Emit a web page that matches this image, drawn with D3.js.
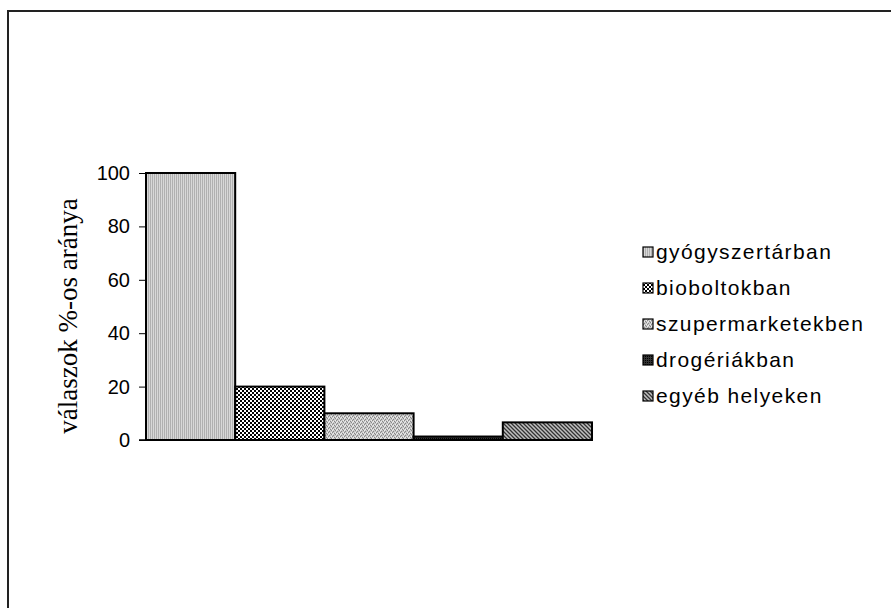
<!DOCTYPE html>
<html><head><meta charset="utf-8">
<script src="https://cdn.jsdelivr.net/npm/d3@7"></script>
<style>body{margin:0;background:#fff}svg{display:block}</style>
</head><body>
<script>
const categories = ["gyógyszertárban","bioboltokban","szupermarketekben","drogériákban","egyéb helyeken"];
const values = [100, 20, 10, 1.3, 6.6];
const yTicks = [0, 20, 40, 60, 80, 100];
const yTitle = "válaszok %-os aránya";

const W = 891, H = 608;
const svg = d3.select("body").append("svg").attr("width", W).attr("height", H);
const defs = svg.append("defs");

function pat(id, size, draw){ const p = defs.append("pattern").attr("id", id).attr("patternUnits","userSpaceOnUse").attr("width",size).attr("height",size); draw(p); }
pat("p0", 2, p => { p.append("rect").attr("width",2).attr("height",2).attr("fill","#d8d8d8"); p.append("rect").attr("width",1).attr("height",2).attr("fill","#b0b0b0"); });
pat("p1", 4, p => { p.append("rect").attr("width",4).attr("height",4).attr("fill","#fff"); p.append("rect").attr("width",2).attr("height",2).attr("fill","#000"); p.append("rect").attr("x",2).attr("y",2).attr("width",2).attr("height",2).attr("fill","#000"); });
pat("p2", 4, p => { p.append("rect").attr("width",4).attr("height",4).attr("fill","#c8c8c8");
  [[0,0],[2,1],[1,3],[3,2]].forEach(([x,y])=>p.append("rect").attr("x",x).attr("y",y).attr("width",1).attr("height",1).attr("fill","#888"));
  [[1,1],[3,0],[0,2]].forEach(([x,y])=>p.append("rect").attr("x",x).attr("y",y).attr("width",1).attr("height",1).attr("fill","#eee")); });
pat("p3", 2, p => { p.append("rect").attr("width",2).attr("height",2).attr("fill","#333"); p.append("rect").attr("width",1).attr("height",1).attr("fill","#000"); });
pat("p4", 4, p => { p.append("rect").attr("width",4).attr("height",4).attr("fill","#c0c0c0");
  p.append("path").attr("d","M0,0 L4,4 M-1,3 L1,5 M3,-1 L5,1").attr("stroke","#333").attr("stroke-width",1.3); });
const fills = categories.map((c,i)=>`url(#p${i})`);

svg.append("rect").attr("x",8).attr("y",11).attr("width",W+20).attr("height",H+20)
  .attr("fill","none").attr("stroke","#222").attr("stroke-width",2);

const x = d3.scaleBand().domain(categories).range([146, 592]).padding(0);
const y = d3.scaleLinear().domain([0, 100]).range([440, 173]);

const ax = svg.append("g").attr("transform","translate(146,0)")
  .call(d3.axisLeft(y).tickValues(yTicks).tickSize(7).tickPadding(9).tickFormat(d3.format("d")));
ax.select(".domain").remove();
ax.selectAll("line").attr("stroke","#000");
ax.selectAll("text").attr("font-family","Arial, 'Liberation Sans', sans-serif").attr("font-size",20)
  .attr("fill","#000");

svg.append("g").selectAll("rect").data(categories).join("rect")
  .attr("x", d => x(d)).attr("y", (d,i) => y(values[i]))
  .attr("width", x.bandwidth()).attr("height", (d,i) => y(0) - y(values[i]))
  .attr("fill", (d,i) => fills[i]).attr("stroke","#000").attr("stroke-width",2);

svg.append("line").attr("x1",139).attr("x2",592).attr("y1",y(0)).attr("y2",y(0)).attr("stroke","#000").attr("stroke-width",1.5);

svg.append("text").attr("transform","translate(77,316) rotate(-90)")
  .attr("text-anchor","middle").attr("font-family","'Times New Roman','Liberation Serif',serif")
  .attr("font-size",27).attr("fill","#000").text(yTitle);

const lg = svg.append("g").selectAll("g").data(categories).join("g")
  .attr("transform",(d,i)=>`translate(643,${252 + i*36})`);
lg.append("rect").attr("x",0).attr("y",-5).attr("width",10).attr("height",10)
  .attr("fill",(d,i)=>fills[i]).attr("stroke","#000").attr("stroke-width",1.2);
lg.append("text").attr("x",13).attr("y",0).attr("dy","0.35em")
  .attr("font-family","Arial, 'Liberation Sans', sans-serif").attr("font-size",21)
  .attr("letter-spacing",1.4).attr("fill","#000").text(d=>d);
</script>
</body></html>
